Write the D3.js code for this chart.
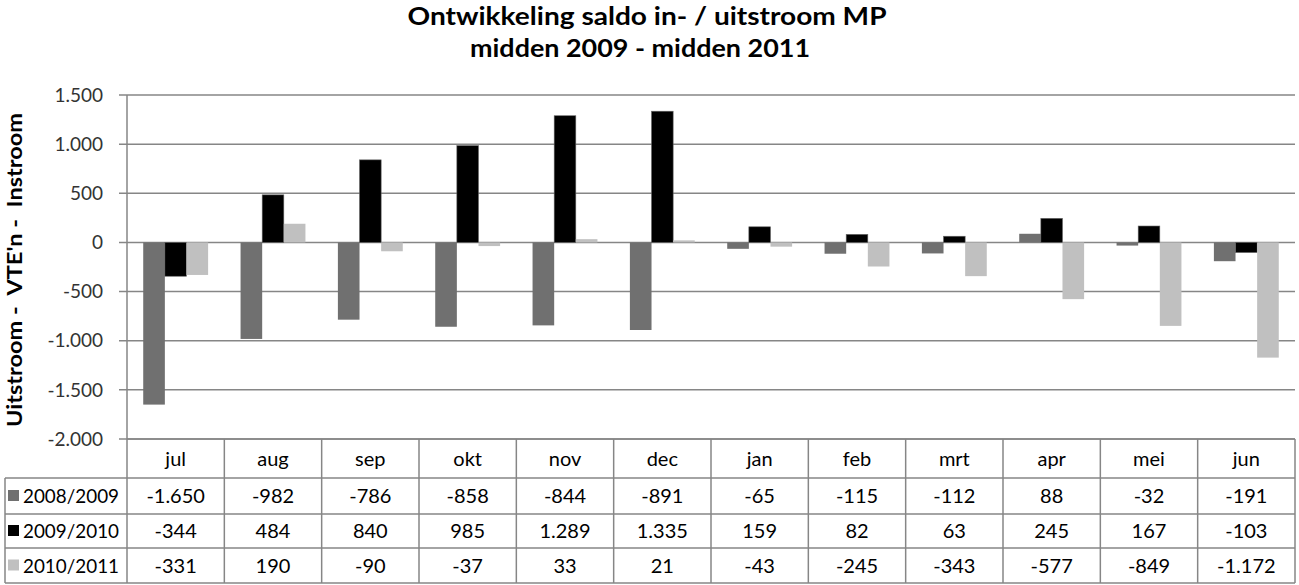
<!DOCTYPE html>
<html><head><meta charset="utf-8">
<script src="https://cdn.jsdelivr.net/npm/d3@7"></script>
<style>body{margin:0;background:#fff}svg{display:block}text{font-family:Lato,"Open Sans",sans-serif}</style>
</head><body>
<svg id="c" width="1299" height="585"></svg>
<script>
const months = ["jul","aug","sep","okt","nov","dec","jan","feb","mrt","apr","mei","jun"];
const seriesNames = ["2008/2009","2009/2010","2010/2011"];
const s2008 = [-1650,-982,-786,-858,-844,-891,-65,-115,-112,88,-32,-191];
const s2009 = [-344,484,840,985,1289,1335,159,82,63,245,167,-103];
const s2010 = [-331,190,-90,-37,33,21,-43,-245,-343,-577,-849,-1172];
const yTicks = [1500,1000,500,0,-500,-1000,-1500,-2000];
const colors = ["#707070","#000000","#c0c0c0"];
const titleLines = ["Ontwikkeling saldo in- / uitstroom MP","midden 2009 - midden 2011"];
const yTitle = "Uitstroom -  VTE'n -  Instroom";

const series = [s2008,s2009,s2010];
const svg = d3.select("#c");
const L = 127, R = 1295, T = 95, B = 439;
const fmt = v => {
  const s = Math.abs(v).toString().replace(/\B(?=(\d{3})+(?!\d))/g, ".");
  return (v < 0 ? "-" : "") + s;
};

const y = d3.scaleLinear().domain([-2000,1500]).range([B,T]);
const x0 = d3.scaleBand().domain(months).range([L,R]).paddingInner(0).paddingOuter(0);
const bw = x0.bandwidth();
const x1 = d3.scaleBand().domain(seriesNames).range([bw*0.75/4.5, bw - bw*0.75/4.5]).padding(0);

// gridlines
svg.append("g").selectAll("line").data(yTicks).join("line")
  .attr("x1", L - 8).attr("x2", R).attr("y1", d => y(d)).attr("y2", d => y(d))
  .attr("stroke", "#868686").attr("stroke-width", 1.5);

// tick labels
svg.append("g").selectAll("text").data(yTicks).join("text")
  .attr("x", 103).attr("y", d => y(d)).attr("dy", "0.35em")
  .attr("text-anchor", "end").attr("font-size", 19).attr("fill", "#333")
  .text(fmt);

// bars
const gBars = svg.append("g");
series.forEach((vals, si) => {
  gBars.selectAll(null).data(vals).join("rect")
    .attr("x", (d,i) => x0(months[i]) + x1(seriesNames[si]))
    .attr("width", x1.bandwidth())
    .attr("y", d => y(Math.max(0,d)))
    .attr("height", d => Math.abs(y(d) - y(0)))
    .attr("fill", colors[si])
    .attr("stroke", si === 1 ? "#666" : "none").attr("stroke-width", 0.6);
});

// axis line
svg.append("line").attr("x1", L).attr("x2", L).attr("y1", T).attr("y2", 583)
  .attr("stroke", "#868686").attr("stroke-width", 1.5);

// data table
const rowY = [439, 478, 514, 548, 583];
const tbl = svg.append("g");
const lineC = "#868686";
tbl.append("line").attr("x1", L).attr("x2", R).attr("y1", rowY[0]).attr("y2", rowY[0]).attr("stroke", lineC).attr("stroke-width", 1.5);
rowY.slice(1).forEach(yy => tbl.append("line").attr("x1", 5).attr("x2", R).attr("y1", yy).attr("y2", yy).attr("stroke", lineC).attr("stroke-width", 1.5));
months.forEach(m => {
  tbl.append("line").attr("x1", x0(m) + bw).attr("x2", x0(m) + bw).attr("y1", rowY[0]).attr("y2", rowY[4]).attr("stroke", lineC).attr("stroke-width", 1.5);
});
tbl.append("line").attr("x1", 5).attr("x2", 5).attr("y1", rowY[1]).attr("y2", rowY[4]).attr("stroke", lineC).attr("stroke-width", 1.5);

tbl.selectAll("text.h").data(months).join("text").attr("class","h")
  .attr("x", d => x0(d) + bw/2).attr("y", (rowY[0]+rowY[1])/2).attr("dy","0.35em")
  .attr("text-anchor","middle").attr("font-size", 20).attr("fill","#000").text(d => d);

series.forEach((vals, si) => {
  const cy = (rowY[si+1] + rowY[si+2]) / 2;
  tbl.append("rect").attr("x", 8).attr("y", cy - 6).attr("width", 11).attr("height", 11).attr("fill", colors[si]);
  tbl.append("text").attr("x", 23).attr("y", cy).attr("dy","0.35em").attr("font-size", 20).attr("fill","#000")
    .attr("textLength", 96).attr("lengthAdjust","spacingAndGlyphs").text(seriesNames[si]);
  tbl.selectAll(null).data(vals).join("text")
    .attr("x", (d,i) => x0(months[i]) + bw/2).attr("y", cy).attr("dy","0.35em")
    .attr("text-anchor","middle").attr("font-size", 20).attr("fill","#000").text(fmt);
});

// titles
svg.append("text").attr("x", 647).attr("y", 25).attr("text-anchor","middle")
  .attr("font-size", 25).attr("font-weight","bold").attr("textLength", 479).attr("lengthAdjust","spacingAndGlyphs").text(titleLines[0]);
svg.append("text").attr("x", 640).attr("y", 57).attr("text-anchor","middle")
  .attr("font-size", 25).attr("font-weight","bold").attr("textLength", 340).attr("lengthAdjust","spacingAndGlyphs").text(titleLines[1]);

svg.append("text").attr("transform","translate(22,270) rotate(-90)").attr("text-anchor","middle")
  .attr("font-size", 20).attr("font-weight","bold").attr("textLength", 314).attr("lengthAdjust","spacingAndGlyphs")
  .attr("xml:space","preserve").style("white-space","pre").text(yTitle);
</script>
</body></html>
